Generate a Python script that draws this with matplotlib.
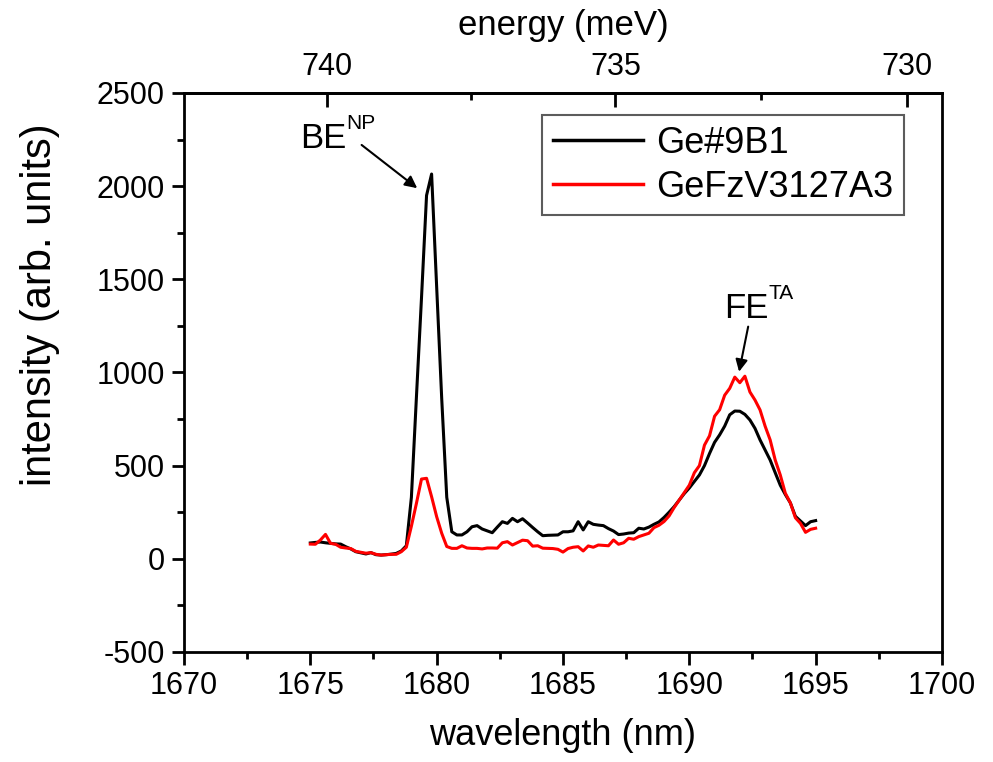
import numpy as np
import matplotlib
matplotlib.use("Agg")
import matplotlib.pyplot as plt
from matplotlib.ticker import MultipleLocator, FixedLocator

plt.rcParams['font.family'] = ['Liberation Sans', 'DejaVu Sans']
plt.rcParams['axes.unicode_minus'] = False

# wavelength grid (nm), 0.2 nm sampling
wavelength = np.linspace(1675.0, 1695.0, 101)

ge9b1 = [85, 88, 90, 86, 83, 80, 79, 65, 53, 38,
         32, 26, 33, 22, 20, 22, 25, 29, 42, 70,
         330, 870, 1400, 1950, 2065, 1460, 860, 330, 145, 128,
         128, 145, 172, 178, 160, 150, 140, 170, 199, 190,
         217, 199, 215, 192, 168, 145, 124, 126, 127, 128,
         145, 145, 150, 199, 155, 199, 185, 181, 178, 162,
         149, 130, 133, 138, 140, 164, 160, 170, 185, 198,
         222, 250, 280, 315, 350, 380, 415, 450, 500, 565,
         625, 665, 712, 773, 793, 792, 775, 745, 700, 638,
         584, 530, 462, 395, 345, 300, 228, 203, 178, 199,
         205]

gefz = [79, 78, 101, 131, 83, 78, 62, 58, 55, 40,
        35, 30, 33, 24, 20, 22, 24, 24, 38, 62,
        175, 298, 428, 432, 333, 226, 137, 66, 56, 56,
        70, 58, 56, 56, 53, 58, 58, 57, 86, 92,
        74, 87, 100, 97, 68, 70, 57, 56, 55, 51,
        36, 55, 62, 65, 42, 69, 62, 74, 72, 70,
        101, 78, 86, 110, 105, 119, 128, 137, 167, 180,
        200, 230, 275, 315, 355, 395, 462, 500, 610, 660,
        765, 800, 878, 915, 975, 945, 980, 895, 852, 799,
        712, 638, 530, 450, 352, 300, 220, 190, 142, 158,
        164]

labels = ['Ge#9B1', 'GeFzV3127A3']
colors = ['black', '#ff0000']

x_ticks = [1670, 1675, 1680, 1685, 1690, 1695, 1700]
y_ticks = [-500, 0, 500, 1000, 1500, 2000, 2500]
energy_ticks = [740, 735, 730]

fig = plt.figure(figsize=(9.93, 7.62), dpi=100)
ax = fig.add_axes([0.1853, 0.1444, 0.7633, 0.7336])

ax.plot(wavelength, ge9b1, color=colors[0], lw=2.2, label=labels[0])
ax.plot(wavelength, gefz, color=colors[1], lw=2.2, label=labels[1])

ax.set_xlim(1670, 1700)
ax.set_ylim(-500, 2500)
ax.xaxis.set_major_locator(FixedLocator(x_ticks))
ax.yaxis.set_major_locator(FixedLocator(y_ticks))
ax.xaxis.set_minor_locator(MultipleLocator(2.5))
ax.yaxis.set_minor_locator(MultipleLocator(250))

for s in ax.spines.values():
    s.set_linewidth(2.0)

ax.tick_params(which='major', direction='out', length=9, width=2, labelsize=22, pad=5)
ax.tick_params(which='minor', direction='out', length=5, width=2)
ax.tick_params(top=False, right=False)

ax.set_xlabel('wavelength (nm)', fontsize=26, labelpad=12)
fig.text(0.040, 0.600, 'intensity (arb. units)', fontsize=30, rotation=90,
         ha='center', va='center')

# top energy axis
const = 1240000.0
sec = ax.secondary_xaxis('top', functions=(lambda l: const / np.asarray(l, float),
                                           lambda e: const / np.asarray(e, float)))
sec.xaxis.set_major_locator(FixedLocator(energy_ticks))
sec.xaxis.set_minor_locator(FixedLocator([737.5, 732.5]))
sec.tick_params(which='major', direction='in', length=10, width=2, labelsize=22, pad=8)
sec.tick_params(which='minor', direction='in', length=5, width=2)
sec.spines['top'].set_linewidth(2.0)
sec.set_xlabel('energy (meV)', fontsize=25, labelpad=12)

# legend
leg = ax.legend(loc='upper left', bbox_to_anchor=(0.4723, 0.961), fontsize=26,
                frameon=True, fancybox=False, handlelength=2.5, handletextpad=0.35,
                borderpad=0.3, labelspacing=0.25, borderaxespad=0)
leg.get_frame().set_edgecolor('#333333')
leg.get_frame().set_linewidth(1.5)
for line in leg.get_lines():
    line.set_linewidth(2.5)

# annotations
ax.text(1674.59, 2203, 'BE', fontsize=25, ha='left', va='baseline')
ax.text(1676.44, 2307, 'NP', fontsize=15, ha='left', va='baseline')
ax.annotate('', xy=(1679.23, 1989), xytext=(1677.03, 2221),
            arrowprops=dict(arrowstyle='-|>', color='black', lw=1.5,
                            mutation_scale=18, shrinkA=0, shrinkB=0))

ax.text(1691.37, 1291, 'FE', fontsize=25, ha='left', va='baseline')
ax.text(1693.15, 1394, 'TA', fontsize=15, ha='left', va='baseline')
ax.annotate('', xy=(1691.97, 1004), xytext=(1692.33, 1246),
            arrowprops=dict(arrowstyle='-|>', color='black', lw=1.5,
                            mutation_scale=18, shrinkA=0, shrinkB=0))

fig.savefig('out.png', dpi=100)
